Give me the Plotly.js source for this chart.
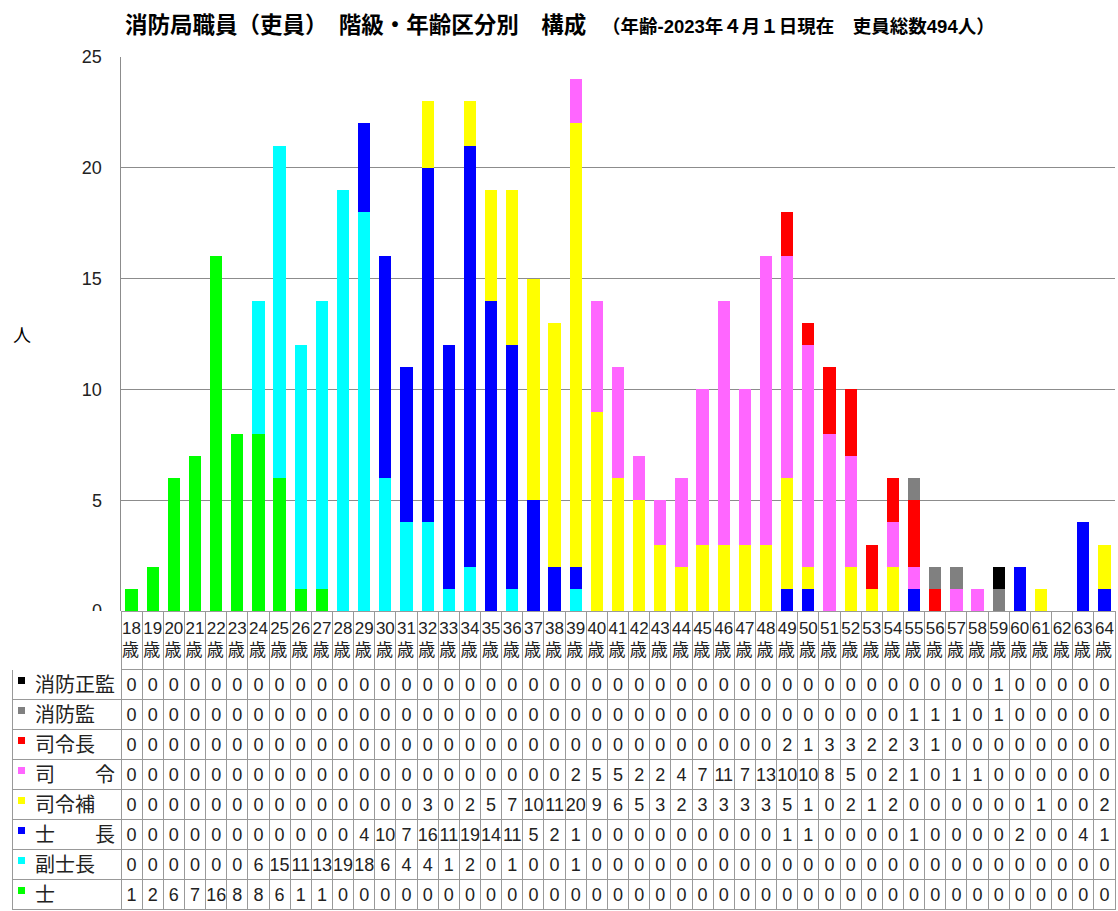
<!DOCTYPE html>
<html><head><meta charset="utf-8">
<script src="https://cdn.plot.ly/plotly-3.0.1.min.js"></script>
<style>html,body{margin:0;padding:0;background:#fff;}#chart{width:1118px;height:911px;}</style>
</head><body><div id="chart"></div>
<script>
const ages = [18,19,20,21,22,23,24,25,26,27,28,29,30,31,32,33,34,35,36,37,38,39,40,41,42,43,44,45,46,47,48,49,50,51,52,53,54,55,56,57,58,59,60,61,62,63,64];
const ageLabels = ages.map(a => a + "<br>歳");

const shi        = [1,2,6,7,16,8,8,6,1,1,0,0,0,0,0,0,0,0,0,0,0,0,0,0,0,0,0,0,0,0,0,0,0,0,0,0,0,0,0,0,0,0,0,0,0,0,0];
const fukuShicho = [0,0,0,0,0,0,6,15,11,13,19,18,6,4,4,1,2,0,1,0,0,1,0,0,0,0,0,0,0,0,0,0,0,0,0,0,0,0,0,0,0,0,0,0,0,0,0];
const shicho     = [0,0,0,0,0,0,0,0,0,0,0,4,10,7,16,11,19,14,11,5,2,1,0,0,0,0,0,0,0,0,0,1,1,0,0,0,0,1,0,0,0,0,2,0,0,4,1];
const shireiho   = [0,0,0,0,0,0,0,0,0,0,0,0,0,0,3,0,2,5,7,10,11,20,9,6,5,3,2,3,3,3,3,5,1,0,2,1,2,0,0,0,0,0,0,1,0,0,2];
const shirei     = [0,0,0,0,0,0,0,0,0,0,0,0,0,0,0,0,0,0,0,0,0,2,5,5,2,2,4,7,11,7,13,10,10,8,5,0,2,1,0,1,1,0,0,0,0,0,0];
const shireicho  = [0,0,0,0,0,0,0,0,0,0,0,0,0,0,0,0,0,0,0,0,0,0,0,0,0,0,0,0,0,0,0,2,1,3,3,2,2,3,1,0,0,0,0,0,0,0,0];
const shoboKan   = [0,0,0,0,0,0,0,0,0,0,0,0,0,0,0,0,0,0,0,0,0,0,0,0,0,0,0,0,0,0,0,0,0,0,0,0,0,1,1,1,0,1,0,0,0,0,0];
const shoboSeiKan= [0,0,0,0,0,0,0,0,0,0,0,0,0,0,0,0,0,0,0,0,0,0,0,0,0,0,0,0,0,0,0,0,0,0,0,0,0,0,0,0,0,1,0,0,0,0,0];

const seriesNames  = ["士","副士長","士　　長","司令補","司　　令","司令長","消防監","消防正監"];
const seriesValues = [shi, fukuShicho, shicho, shireiho, shirei, shireicho, shoboKan, shoboSeiKan];
const seriesColors = ["#00ff00","#00ffff","#0000ff","#ffff00","#ff66ff","#ff0000","#808080","#000000"];

const W = 1118, H = 911;
const FONT = "Liberation Sans, Noto Sans CJK JP, sans-serif";
const x0 = 121, x1 = 1115, tL = 12;
const tableTop = 611, headerH = 58, rowH = 30;

const traces = seriesNames.map((n, i) => ({
  type: "bar", name: n, x: ages.map(String), y: seriesValues[i],
  marker: {color: seriesColors[i], line: {width: 0}},
  hoverinfo: "x+y+name", showlegend: false
}));

// table: rows from top 消防正監 ... 士
const order = [7,6,5,4,3,2,1,0];
const rowLabels = order.map(i => "\u2002\u2005" + seriesNames[i]);
const cols = [rowLabels];
ages.forEach((a, j) => cols.push(order.map(i => String(seriesValues[i][j]))));
const colW = [x0 - tL].concat(ages.map(() => (x1 - x0) / ages.length));
const headerLineColors = ["#ffffff"].concat(ages.map(() => "#999999"));

traces.push({
  type: "table",
  domain: {x: [tL / W, x1 / W], y: [0, 1 - tableTop / H]},
  columnwidth: colW,
  header: {
    values: [""].concat(ageLabels),
    height: headerH,
    align: "center",
    line: {color: headerLineColors, width: 1},
    fill: {color: "#ffffff"},
    font: {family: FONT, size: 17, color: "#222"}
  },
  cells: {
    values: cols,
    height: rowH,
    align: ["left"].concat(ages.map(() => "center")),
    line: {color: "#999999", width: 1},
    fill: {color: "#ffffff"},
    font: {family: FONT, size: [20].concat(ages.map(() => 18)), color: "#222"}
  }
});

// legend squares in the row-label column (shapes)
const squareShapes = order.map((i, r) => {
  const top = tableTop + headerH + r * rowH + 8;
  return {
    type: "rect", xref: "paper", yref: "paper", layer: "above",
    x0: 18 / W, x1: 25 / W, y0: 1 - (top + 7) / H, y1: 1 - top / H,
    fillcolor: seriesColors[i], line: {width: 0}
  };
});

const layout = {
  width: W, height: H,
  margin: {l: 0, r: 0, t: 0, b: 0},
  paper_bgcolor: "#fff", plot_bgcolor: "#fff",
  barmode: "stack", bargap: 0.42,
  font: {family: FONT, color: "#000"},
  title: {
    text: "<b>消防局職員（吏員）　階級・年齢区分別　構成</b>",
    x: 125 / W, xanchor: "left", xref: "paper",
    y: 1 - 25 / H, yanchor: "middle", yref: "paper",
    font: {family: FONT, size: 22.5, color: "#000"}
  },
  xaxis: {
    domain: [x0 / W, x1 / W], range: [-0.5, ages.length - 0.5],
    type: "category", showticklabels: false, ticks: "", showgrid: false,
    showline: false, zeroline: false, fixedrange: true
  },
  yaxis: {
    domain: [1 - 611 / H, 1 - 57 / H], range: [0, 25], tickvals: [0,5,10,15,20,25],
    showgrid: true, gridcolor: "#8c8c8c", gridwidth: 1,
    showline: true, linecolor: "#8c8c8c", linewidth: 1.5,
    zeroline: false, ticks: "", ticklen: 0, ticklabelstandoff: 14,
    tickfont: {family: FONT, size: 18, color: "#222"},
    title: {text: ""}, fixedrange: true
  },
  shapes: squareShapes,
  annotations: [{
    text: "人", xref: "paper", yref: "paper", x: 22 / W, y: 1 - 336 / H,
    xanchor: "center", yanchor: "middle", showarrow: false,
    font: {family: FONT, size: 18, color: "#000"}
  }, {
    text: "<b>（年齢-2023年４月１日現在　吏員総数494人）</b>",
    xref: "paper", yref: "paper", x: 600 / W, y: 1 - 27 / H,
    xanchor: "left", yanchor: "middle", showarrow: false,
    font: {family: FONT, size: 18.5, color: "#000"}
  }]
};

Plotly.newPlot("chart", traces, layout, {displayModeBar: false, staticPlot: true});
</script>
</body></html>
